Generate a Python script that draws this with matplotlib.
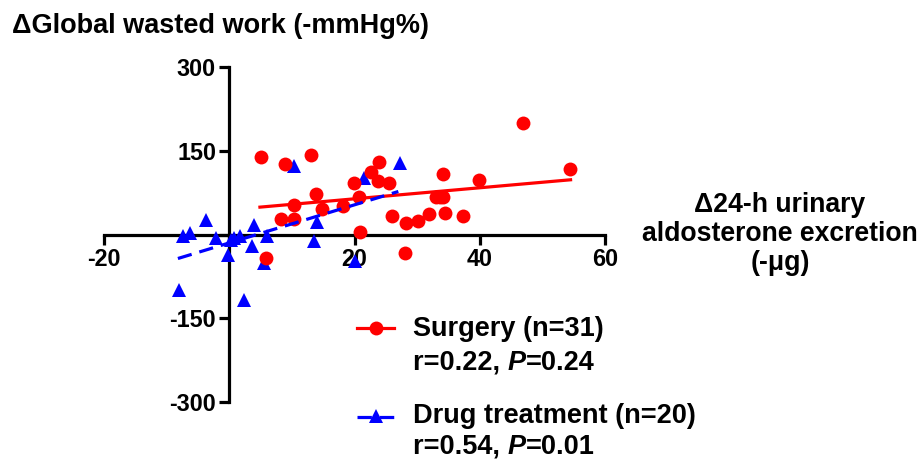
import matplotlib
matplotlib.use("Agg")
import matplotlib.pyplot as plt
from matplotlib.lines import Line2D
from matplotlib.text import Annotation

# ---- data ----
surgery_x = [5.1, 8.9, 13.1, 10.3, 13.8, 14.8, 8.3, 10.3, 18.2, 19.9, 20.7, 20.9,
             22.6, 23.9, 23.7, 25.5, 26.0, 5.8, 28.0, 28.3, 30.2, 31.9, 34.2, 33.0,
             34.2, 34.4, 37.4, 39.9, 46.9, 54.4, 33.6]
surgery_y = [139, 126, 142, 53, 73, 46, 27, 27, 51, 93, 67, 5,
             112, 129, 96, 93, 33, -42, -33, 20, 25, 37, 109, 68,
             67, 38, 34, 97, 199, 117, 68]
drug_x = [-8.0, -7.4, -6.2, -3.7, -2.1, 0.2, 0.8, -0.2, 1.7, 2.4, 3.7, 4.0, 6.0,
          5.6, 10.3, 14.0, 13.5, 20.0, 21.5, 27.3]
drug_y = [-99, -2, 3, 26, -6, -9, -6, -37, -3, -118, -21, 17, -3,
          -51, 122, 23, -11, -48, 101, 128]
surgery_fit_x = [4.9, 54.5]
surgery_fit_y = [49, 98]
drug_fit_x = [-8.2, 27.0]
drug_fit_y = [-43, 77]

x_ticks = [-20, 0, 20, 40, 60]
x_ticklabels = ['-20', '', '20', '40', '60']
y_ticks = [-300, -150, 0, 150, 300]
y_ticklabels = ['-300', '-150', '', '150', '300']

title = "\u0394Global wasted work (-mmHg%)"
xlabel = "\u039424-h urinary\naldosterone excretion\n(-\u03bcg)"
surgery_label = "Surgery (n=31)"
surgery_stats = ("r=0.22, ", "P", "=0.24")
drug_label = "Drug treatment (n=20)"
drug_stats = ("r=0.54, ", "P", "=0.01")

RED = "#FF0000"
BLUE = "#0000FF"

plt.rcParams['font.family'] = ['Liberation Sans', 'DejaVu Sans']
plt.rcParams['font.weight'] = 'bold'

W, H = 922, 459
fig = plt.figure(figsize=(W / 100, H / 100), dpi=100)
ax = fig.add_axes([104 / W, (H - 402) / H, 501 / W, 335 / H])
ax.set_xlim(-20, 60)
ax.set_ylim(-300, 300)

ax.spines['left'].set_position(('data', 0))
ax.spines['bottom'].set_position(('data', 0))
ax.spines['top'].set_visible(False)
ax.spines['right'].set_visible(False)
for s in ('left', 'bottom'):
    ax.spines[s].set_linewidth(2.3)
    ax.spines[s].set_capstyle('projecting')

ax.set_xticks(x_ticks)
ax.set_xticklabels(x_ticklabels)
ax.set_yticks(y_ticks)
ax.set_yticklabels(y_ticklabels)
ax.tick_params(axis='both', direction='out', length=7.5, width=2.3,
               labelsize=16.8, pad=2)
for lab in ax.get_xticklabels() + ax.get_yticklabels():
    lab.set_fontweight('bold')

ax.plot(drug_x, drug_y, linestyle='none', marker='^', markersize=9.5,
        color=BLUE, markeredgewidth=0, zorder=3)
ax.plot(surgery_x, surgery_y, linestyle='none', marker='o', markersize=10,
        color=RED, markeredgewidth=0, zorder=4)
ax.plot(surgery_fit_x, surgery_fit_y, color=RED, linewidth=2.3, zorder=5)
ax.plot(drug_fit_x, drug_fit_y, color=BLUE, linewidth=2.3,
        dashes=(4.5, 2.5), zorder=5)

# title (y-axis label)
fig.text(12 / W, 1 - 33 / H, title, fontsize=19.5, fontweight='bold',
         ha='left', va='baseline')

# x-axis label at right (baseline refers to last line)
fig.text(780 / W, 1 - 270 / H, xlabel, fontsize=19.2, fontweight='bold',
         ha='center', va='baseline', linespacing=1.16, multialignment='center')

LEG = 19.5


def rich_line(x_px, base_px, parts, size=LEG):
    t = fig.text(x_px / W, 1 - base_px / H, parts[0], fontsize=size,
                 fontweight='bold', ha='left', va='baseline')
    prev = t
    for i, p in enumerate(parts[1:]):
        style = 'italic' if i == 0 else 'normal'
        prev = fig.add_artist(
            Annotation(p, xy=(1, 0), xycoords=prev, fontsize=size,
                       fontweight='bold', style=style, ha='left',
                       va='bottom', annotation_clip=False))
    return t


fig.text(413 / W, 1 - 336 / H, surgery_label, fontsize=LEG, fontweight='bold',
         ha='left', va='baseline')
rich_line(413, 370, surgery_stats)
fig.text(413 / W, 1 - 423 / H, drug_label, fontsize=LEG, fontweight='bold',
         ha='left', va='baseline')
rich_line(413, 454, drug_stats)

# legend handles
h1 = Line2D([357 / W, 394 / W], [1 - 328 / H, 1 - 328 / H], transform=fig.transFigure,
            color=RED, linewidth=2.3)
m1 = Line2D([375.5 / W], [1 - 328 / H], transform=fig.transFigure, color=RED,
            marker='o', markersize=10, markeredgewidth=0, linestyle='none')
h2 = Line2D([357 / W, 394 / W], [1 - 417 / H, 1 - 417 / H], transform=fig.transFigure,
            color=BLUE, linewidth=2.3, dashes=(4.5, 2.5))
m2 = Line2D([375.5 / W], [1 - 416 / H], transform=fig.transFigure, color=BLUE,
            marker='^', markersize=9.5, markeredgewidth=0, linestyle='none')
for a in (h1, m1, h2, m2):
    fig.add_artist(a)

fig.savefig("out.png", dpi=100)
